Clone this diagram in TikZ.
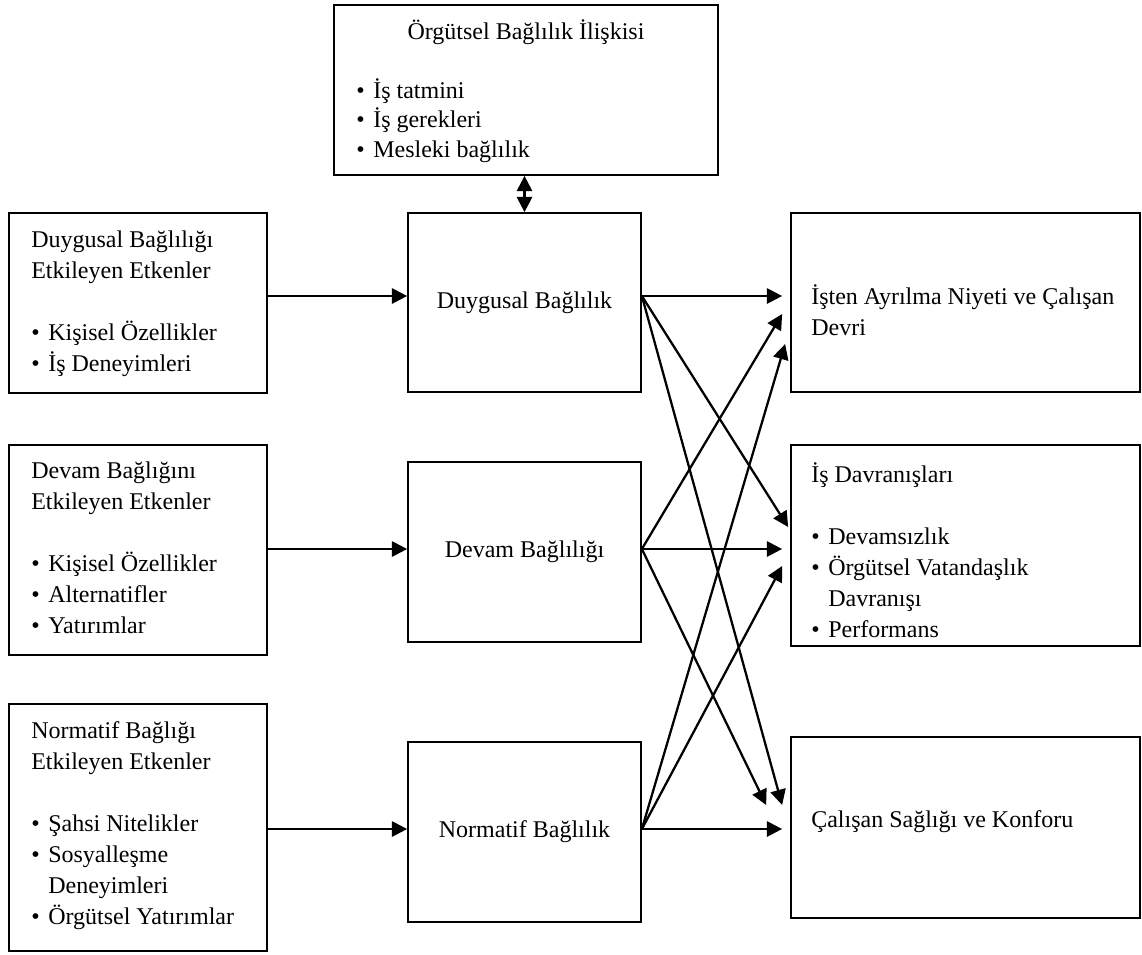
\documentclass[tikz,border=0pt]{standalone}
\usepackage{fontspec}
\setmainfont{Liberation Serif}
\usetikzlibrary{arrows.meta,calc}
% bullet item with a fixed hanging indent
\newcommand\itm[1]{\makebox[12.75pt][l]{\textbullet}#1}
\newcommand\hang{\hspace*{12.75pt}}
\begin{document}
\begin{tikzpicture}[x=0.75pt,y=-0.75pt,
  box/.style={draw, line width=1.3pt, inner sep=0pt, rectangle,
    font=\fontsize{18pt}{23.25pt}\selectfont},
  wh/.style 2 args={minimum width=#1*0.75pt, minimum height=#2*0.75pt},
  txt/.style={inner sep=0pt, align=left, font=\fontsize{18pt}{23.25pt}\selectfont},
  arr/.style={line width=1.7pt, -{Triangle[length=11.5pt,width=11.5pt]}},
  dbl/.style={line width=1.7pt, {Triangle[length=11.5pt,width=11.5pt]}-{Triangle[length=11.5pt,width=11.5pt]}},
]
\useasboundingbox (0,0) rectangle (1142,954);
\fill[white] (0,0) rectangle (1142,954);

% top box (text anchors sit on the last line's baseline)
\node[box, wh={384}{170}] (top) at (526,90) {};
\node[txt, anchor=base] (topt) at (526,39) {Örgütsel Bağlılık İlişkisi};
\node[txt, anchor=base west, font=\fontsize{18pt}{22.1pt}\selectfont] (topl) at (356,157)
  {\itm{İş tatmini}\\\itm{İş gerekleri}\\\itm{Mesleki bağlılık}};

% left column: antecedents
\node[box, wh={258}{180}] (L1) at (138,303) {};
\node[box, wh={258}{210}] (L2) at (138,550) {};
\node[box, wh={258}{247}] (L3) at (138,827.5) {};
\node[txt, anchor=base west] (l1t) at (31,371)
  {Duygusal Bağlılığı\\Etkileyen Etkenler\\[23.25pt]\itm{Kişisel Özellikler}\\\itm{İş Deneyimleri}};
\node[txt, anchor=base west] (l2t) at (31,633)
  {Devam Bağlığını\\Etkileyen Etkenler\\[23.25pt]\itm{Kişisel Özellikler}\\\itm{Alternatifler}\\\itm{Yatırımlar}};
\node[txt, anchor=base west] (l3t) at (31,924)
  {Normatif Bağlığı\\Etkileyen Etkenler\\[23.25pt]\itm{Şahsi Nitelikler}\\\itm{Sosyalleşme}\\\hang Deneyimleri\\\itm{Örgütsel Yatırımlar}};

% middle column: commitment types
\node[box, wh={233}{179}] (M1) at (524.5,302.5) {Duygusal Bağlılık};
\node[box, wh={233}{180}] (M2) at (524.5,552) {Devam Bağlılığı};
\node[box, wh={233}{180}] (M3) at (524.5,832) {Normatif Bağlılık};

% right column: outcomes
\node[box, wh={349}{179}] (R1) at (965.5,302.5) {};
\node[box, wh={349}{201}] (R2) at (965.5,545.5) {};
\node[box, wh={349}{181}] (R3) at (965.5,827.5) {};
\node[txt, anchor=base west] (r1t) at (811,335)
  {İşten Ayrılma Niyeti ve Çalışan\\Devri};
\node[txt, anchor=base west] (r2t) at (811,637)
  {İş Davranışları\\[23.25pt]\itm{Devamsızlık}\\\itm{Örgütsel Vatandaşlık}\\\hang Davranışı\\\itm{Performans}};
\node[txt, anchor=base west] (r3t) at (811,827)
  {Çalışan Sağlığı ve Konforu};

% exit points on the middle boxes
\coordinate (M1o) at ($(M1.east)+(0,-6.5)$);
\coordinate (M2o) at ($(M2.east)+(0,-3)$);
\coordinate (M3o) at ($(M3.east)+(0,-3)$);

% relation with the top box
\draw[dbl] (M1.north |- top.south) -- (M1.north);

% antecedents -> commitment
\draw[arr] (L1.east |- M1o) -- (M1.west |- M1o);
\draw[arr] (L2.east |- M2o) -- (M2.west |- M2o);
\draw[arr] (L3.east |- M3o) -- (M3.west |- M3o);

% commitment -> outcomes
\draw[arr] (M1o) -- ($(R1.west |- M1o)+(-8,0)$);
\draw[arr] (M1o) -- ($(R2.west)+(-2,-18.5)$);
\draw[arr] (M1o) -- ($(R3.west)+(-8,-22.5)$);
\draw[arr] (M2o) -- ($(R1.west)+(-8,11.5)$);
\draw[arr] (M2o) -- ($(R2.west |- M2o)+(-8,0)$);
\draw[arr] (M2o) -- ($(R3.west)+(-24,-22.5)$);
\draw[arr] (M3o) -- ($(R1.west)+(-5,41.5)$);
\draw[arr] (M3o) -- ($(R2.west)+(-8,20.5)$);
\draw[arr] (M3o) -- ($(R3.west |- M3o)+(-8,0)$);
\end{tikzpicture}
\end{document}
